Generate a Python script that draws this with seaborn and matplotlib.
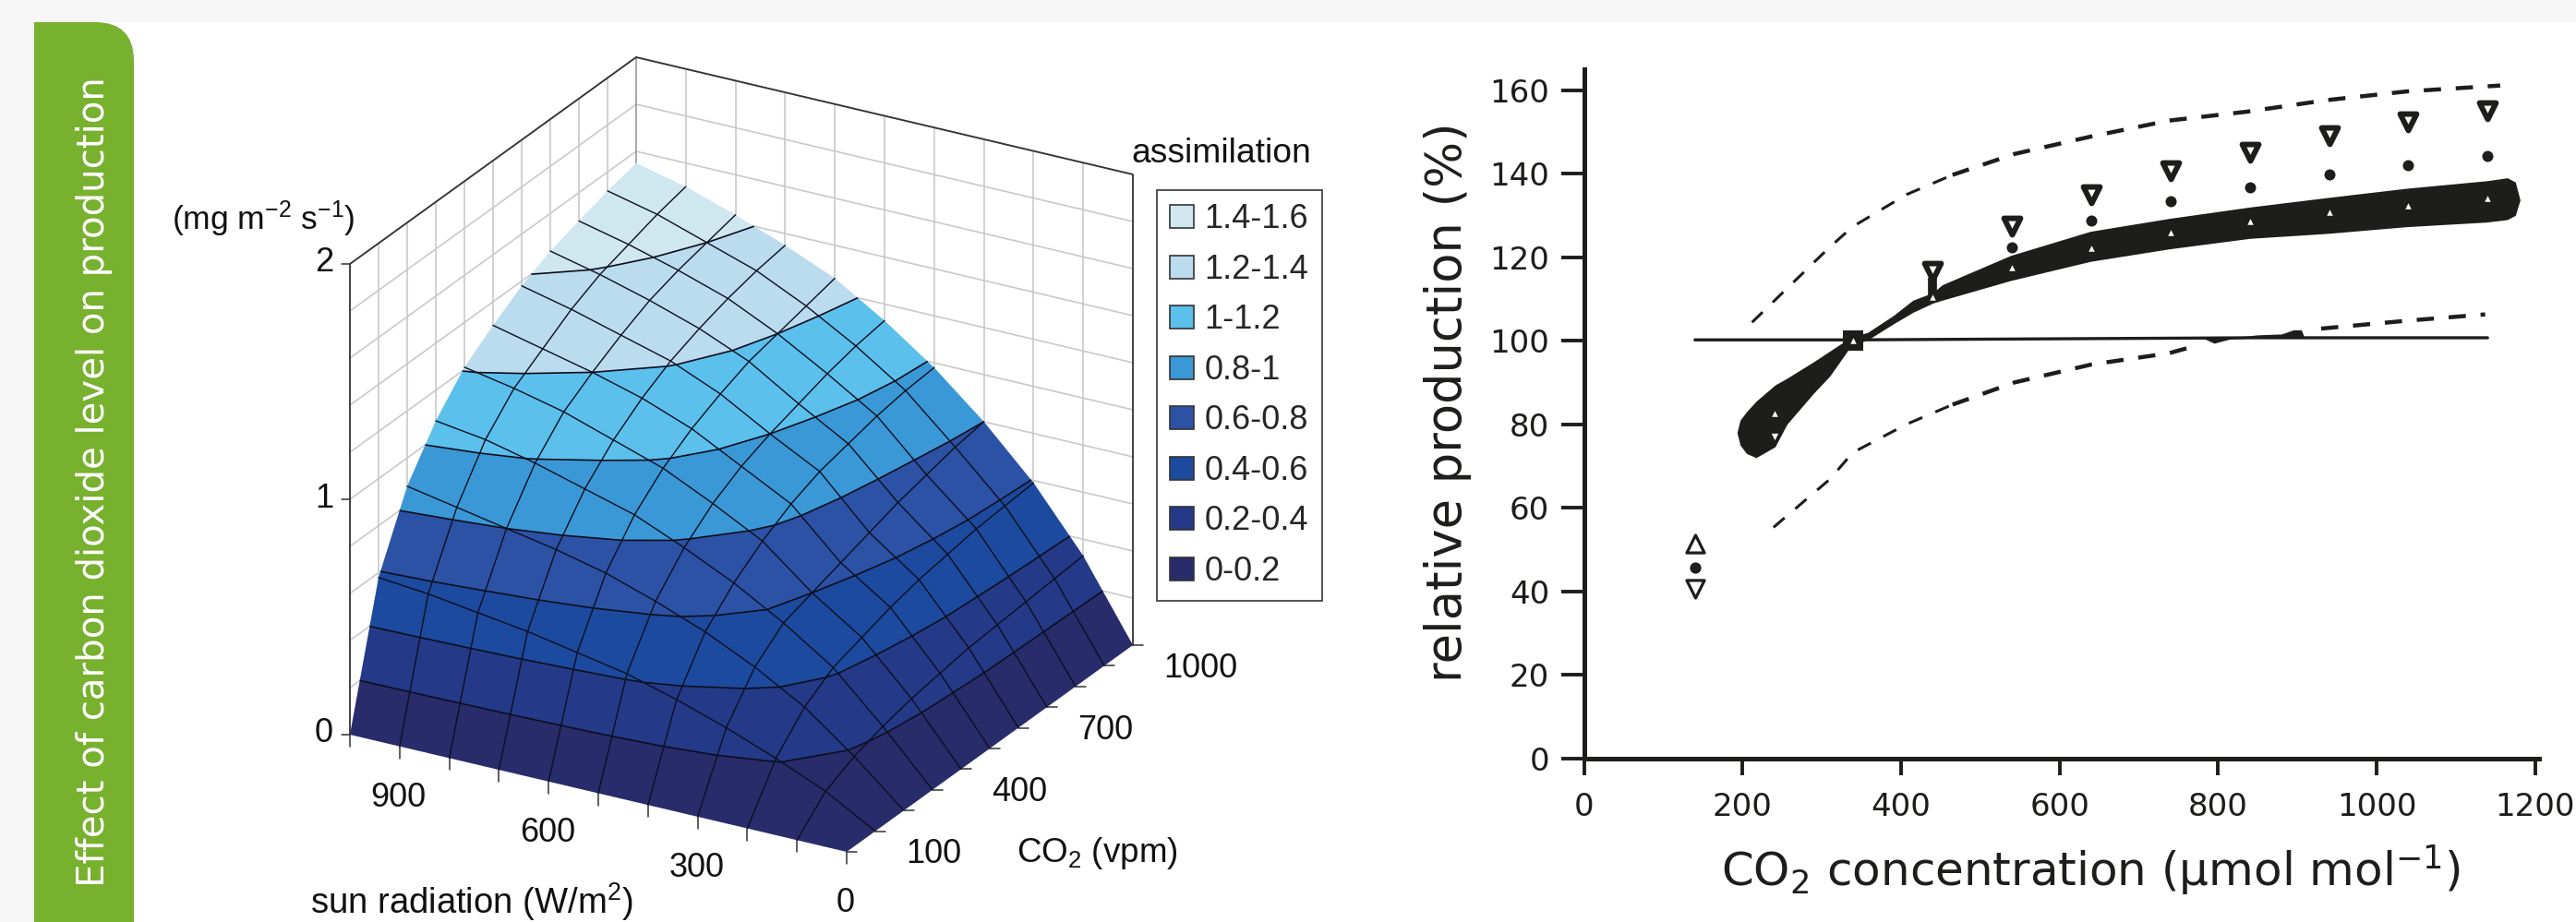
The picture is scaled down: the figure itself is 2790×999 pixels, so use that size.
import numpy as np
import pandas as pd
import matplotlib
matplotlib.use("Agg")
import matplotlib.pyplot as plt
from matplotlib.patches import Patch, Rectangle, FancyBboxPatch
import seaborn as sns

sns.set_style("white")
plt.rcParams['font.family'] = ['DejaVu Sans']
plt.rcParams['mathtext.default'] = 'regular'

# ---------- data: left surface ----------
sun_fraction = [0, .1, .2, .3, .4, .5, .6, .7, .8, .9, 1.0]
co2_fraction = [0, .1, .2, .3, .4, .5, .6, .7, .8, .9, 1.0]
assim_sun0    = [0, 0, 0, 0, 0, 0, 0, 0, 0, 0, 0]
assim_sun100  = [0, .12, .18, .22, .25, .27, .29, .30, .31, .32, .33]
assim_sun200  = [0, .21, .34, .42, .46, .50, .53, .55, .57, .58, .59]
assim_sun300  = [0, .29, .46, .56, .60, .64, .68, .72, .75, .78, .80]
assim_sun400  = [0, .36, .56, .68, .77, .84, .89, .92, .95, .97, .98]
assim_sun500  = [0, .42, .64, .78, .88, .95, 1.0, 1.04, 1.08, 1.11, 1.13]
assim_sun600  = [0, .46, .71, .87, .98, 1.06, 1.12, 1.17, 1.20, 1.23, 1.26]
assim_sun700  = [0, .50, .76, .93, 1.05, 1.14, 1.21, 1.26, 1.30, 1.33, 1.35]
assim_sun800  = [0, .53, .80, .99, 1.12, 1.20, 1.27, 1.33, 1.37, 1.40, 1.43]
assim_sun900  = [0, .56, .84, 1.04, 1.17, 1.25, 1.33, 1.39, 1.43, 1.47, 1.50]
assim_sun1000 = [0, .58, .88, 1.07, 1.21, 1.30, 1.38, 1.44, 1.48, 1.52, 1.55]
band_levels = [0, .2, .4, .6, .8, 1.0, 1.2, 1.4, 1.6]
band_labels = ['0-0.2', '0.2-0.4', '0.4-0.6', '0.6-0.8', '0.8-1', '1-1.2', '1.2-1.4', '1.4-1.6']
band_colors = ['#282c6b', '#243a88', '#1c4a9e', '#2c52a6', '#3b98d6', '#5cc0ec', '#bbdbee', '#cfe7ef']
sun_ticks = [0, 300, 600, 900]
co2_ticks = [100, 400, 700, 1000]
z_ticks = [0, 1, 2]

# ---------- data: right chart ----------
band_x     = [193, 197, 205, 217, 241, 256, 290, 310, 334, 340, 358, 390, 415, 440, 452, 538, 639, 739, 840, 939, 1038, 1139, 1165, 1175, 1181]
band_upper = [78, 81, 83, 85.5, 89.4, 91, 95, 97.5, 100.5, 101, 102, 106, 109.7, 111.5, 113.4, 120.4, 126.2, 129.3, 132, 134.3, 136.5, 138.3, 139, 138, 133.7]
band_lower = [78, 75, 73, 72, 74.6, 80, 87.5, 91.5, 98, 99, 100.2, 104, 106.8, 109, 109.7, 114.4, 119, 122, 124.5, 125.7, 127.3, 128.4, 129, 130, 133.7]
ref_x = [140, 340, 440, 640, 840, 940, 1140]
ref_y = [100.2, 100.2, 100.3, 100.5, 100.7, 100.7, 100.7]
bump_x  = [780, 795, 815, 850, 880, 895, 905, 909]
bump_hi = [100.7, 100.7, 100.7, 101.4, 101.6, 102.6, 102.6, 100.7]
bump_lo = [100.7, 99.4, 100.4, 100.7, 100.7, 100.7, 100.7, 100.7]
dash_up_thin_x = [212, 310, 339, 407, 465]
dash_up_thin_y = [104.4, 122.4, 127.3, 135, 139.7]
dash_up_bold_x = [465, 543, 640, 738, 835, 937, 1039, 1156]
dash_up_bold_y = [139.7, 144.7, 148.9, 152.7, 154.8, 157.6, 159.7, 161.1]
dash_lo_thin_x = [239, 310, 339, 407, 465]
dash_lo_thin_y = [55.3, 66.8, 73.2, 80, 84.7]
dash_lo_bold_x = [465, 543, 640, 738, 774]
dash_lo_bold_y = [84.7, 90, 94.3, 97, 98.9]
dash_lo_end_x = [930, 1039, 1137]
dash_lo_end_y = [102.9, 104.8, 106.3]
marker_x  = [240, 340, 440, 540, 640, 740, 840, 940, 1040, 1140]
high_y = [77, 99.5, 116.5, 127.4, 135, 140.7, 145.2, 149.2, 152.3, 155]
mid_x  = [540, 640, 740, 840, 940, 1040, 1140]
mid_y  = [122.3, 128.8, 133.4, 136.8, 139.9, 142.1, 144.2]
low_y  = [82.6, 100, 110.5, 117.4, 122.2, 125.8, 128.6, 130.7, 132.4, 134.1]
lone_x = [140]
lone_low, lone_mid, lone_high = [51.4], [45.7], [40.5]
neck_x, neck_lo, neck_hi = [440], [110], [115]
x_ticks = [0, 200, 400, 600, 800, 1000, 1200]
y_ticks = [0, 20, 40, 60, 80, 100, 120, 140, 160]

W, H = 2790, 999
fig = plt.figure(figsize=(W / 100, H / 100), dpi=100, facecolor='#f6f6f6')

# ---------- page furniture & surface share one pixel-scaled axes ----------
ax = fig.add_axes([0, 0, 1, 1])
ax.set_xlim(0, W); ax.set_ylim(H, 0); ax.axis('off')
ax.add_patch(Rectangle((37, 24), W, H, fc='white', ec='none', zorder=0))
ax.add_patch(FancyBboxPatch((-40, 24), 185, 1020, boxstyle='round,pad=0,rounding_size=42', fc='#77b12e', ec='none', zorder=0.5))
ax.add_patch(Rectangle((0, 0), 37, H, fc='#f6f6f6', ec='none', zorder=0.6))
ax.text(102, 522, 'Effect of carbon dioxide level on production', rotation=90, color='white',
        fontsize=29, ha='center', va='center', family='DejaVu Sans')

FONT = 'Liberation Sans'
FS = 26
TXT = '#111111'
O = np.array([917., 923.])
SUN_V = np.array([-538., -127.])
CO2_V = np.array([310., -224.])
Z_V = np.array([0., -255.])

def proj(r, t, z):
    r, t, z = np.asarray(r, float), np.asarray(t, float), np.asarray(z, float)
    return (O[0] + r * SUN_V[0] + t * CO2_V[0] + z * Z_V[0],
            O[1] + r * SUN_V[1] + t * CO2_V[1] + z * Z_V[1])

Z = np.array([assim_sun0, assim_sun100, assim_sun200, assim_sun300, assim_sun400, assim_sun500,
              assim_sun600, assim_sun700, assim_sun800, assim_sun900, assim_sun1000], float)
R, T = np.meshgrid(sun_fraction, co2_fraction, indexing='ij')
SX, SY = proj(R, T, Z)

# walls
gray = '#c9c9c9'
for z in np.arange(0.2, 2.01, 0.2):
    xs, ys = proj([1, 1, 0], [0, 1, 1], [z, z, z])
    ax.plot(xs, ys, color=gray, lw=1.2, zorder=1)
for f in sun_fraction[1:-1]:
    xs, ys = proj([f, f], [1, 1], [0, 2]); ax.plot(xs, ys, color=gray, lw=1.2, zorder=1)
for f in co2_fraction[1:-1]:
    xs, ys = proj([1, 1], [f, f], [0, 2]); ax.plot(xs, ys, color=gray, lw=1.2, zorder=1)
xs, ys = proj([1, 1, 1, 0, 0], [0, 0, 1, 1, 1], [0, 2, 2, 2, 0])
ax.plot(xs, ys, color='#333333', lw=1.3, zorder=1.2)
xs, ys = proj([1, 1], [1, 1], [0, 2]); ax.plot(xs, ys, color='#999999', lw=1.2, zorder=1)

# surface
wire = '#0c0e1e'
ax.contourf(SX, SY, Z, levels=band_levels, colors=band_colors, zorder=2, antialiased=True)
ax.contour(SX, SY, Z, levels=band_levels[1:-1], colors=wire, linewidths=1.2, zorder=3)
for i in range(1, Z.shape[0] - 1):
    ax.plot(SX[i, :], SY[i, :], color=wire, lw=1.0, zorder=3)
for j in range(1, Z.shape[1] - 1):
    ax.plot(SX[:, j], SY[:, j], color=wire, lw=1.0, zorder=3)

# axis ticks
for f in sun_fraction:
    x, y = proj(f, 0, 0); ax.plot([x, x], [y, y + 13], color='#333333', lw=1.1, zorder=1.5)
for f in co2_fraction:
    x, y = proj(0, f, 0); ax.plot([x, x + 11], [y, y], color='#333333', lw=1.1, zorder=1.5)
for z in z_ticks:
    x, y = proj(1, 0, z)
    ax.plot([x - 9, x], [y, y], color='#333333', lw=1.1, zorder=1.5)
    ax.text(x - 18, y - 1, str(z), ha='right', va='center', fontsize=FS, family=FONT, color=TXT)
for s in sun_ticks:
    x, y = proj(s / 1000, 0, 0)
    ax.text(x - 1, y + 56, str(s), ha='center', va='center', fontsize=FS, family=FONT, color=TXT)
for c in co2_ticks:
    x, y = proj(0, c / 1000, 0)
    ax.text(x + 33, y + 25, str(c), ha='left', va='center', fontsize=FS, family=FONT, color=TXT)
ax.text(1188, 925, 'CO$_2$ (vpm)', ha='center', va='center', fontsize=26.5, family=FONT, color=TXT)
ax.text(511, 977, 'sun radiation (W/m$^2$)', ha='center', va='center', fontsize=27.5, family=FONT, color=TXT)
ax.text(285, 237, '(mg m$^{-2}$ s$^{-1}$)', ha='center', va='center', fontsize=25.5, family=FONT, color=TXT)
ax.text(1225, 167, 'assimilation', ha='left', va='center', fontsize=26.8, family=FONT, color=TXT)

handles = [Patch(facecolor=c, edgecolor='#333333', linewidth=1.2, label=l)
           for c, l in zip(band_colors[::-1], band_labels[::-1])]
leg = ax.legend(handles=handles, loc='upper left', bbox_to_anchor=(1253, 206), bbox_transform=ax.transData,
                borderaxespad=0, frameon=True, fancybox=False, edgecolor='#444444', facecolor='white', framealpha=1,
                prop={'family': FONT, 'size': 26}, handlelength=0.7, handleheight=0.7,
                handletextpad=0.33, labelspacing=0.54, borderpad=0.4)
leg.get_frame().set_linewidth(1.3)
leg.set_zorder(5)

# ---------- right chart ----------
ink = '#1d1d1b'
left, right, bottom, top = 1715.6, 2750, 821.7, 75
axr = fig.add_axes([left / W, 1 - bottom / H, (right - left) / W, (bottom - top) / H], facecolor='none')
axr.fill_between(band_x, band_lower, band_upper, color=ink, lw=0, zorder=2)
axr.fill_between(bump_x, bump_lo, bump_hi, color=ink, lw=0, zorder=2)
sns.lineplot(x=ref_x, y=ref_y, ax=axr, color=ink, linewidth=2.4, estimator=None, sort=False, zorder=3)
for xv, yv in ((dash_up_thin_x, dash_up_thin_y), (dash_lo_thin_x, dash_lo_thin_y)):
    sns.lineplot(x=xv, y=yv, ax=axr, color=ink, linewidth=2.2, estimator=None, sort=False, zorder=3)
    axr.lines[-1].set_dashes((5.2, 5))
for xv, yv in ((dash_up_bold_x, dash_up_bold_y), (dash_lo_bold_x, dash_lo_bold_y), (dash_lo_end_x, dash_lo_end_y)):
    sns.lineplot(x=xv, y=yv, ax=axr, color=ink, linewidth=3.2, estimator=None, sort=False, zorder=3)
    axr.lines[-1].set_dashes((4.2, 3.6))
axr.vlines(neck_x, neck_lo, neck_hi, color=ink, lw=7, zorder=3)
sns.scatterplot(x=[340], y=[100], ax=axr, marker='s', s=260, color=ink, linewidth=0, zorder=3)
sns.scatterplot(x=marker_x[2:], y=high_y[2:], ax=axr, marker='v', s=165, facecolor='white', edgecolor=ink,
                linewidth=4.3, joinstyle='round', zorder=4)
sns.scatterplot(x=marker_x[:1], y=high_y[:1], ax=axr, marker='v', s=28, color='white', linewidth=0, zorder=5)
sns.scatterplot(x=marker_x, y=low_y, ax=axr, marker='^', s=22, color='white', linewidth=0, zorder=5)
sns.scatterplot(x=mid_x, y=mid_y, ax=axr, marker='o', s=75, color=ink, linewidth=0, zorder=4)
sns.scatterplot(x=lone_x, y=lone_mid, ax=axr, marker='o', s=78, color=ink, linewidth=0, zorder=4)
sns.scatterplot(x=lone_x, y=lone_low, ax=axr, marker='^', s=190, facecolor='white', edgecolor=ink,
                linewidth=2.3, joinstyle='round', zorder=4)
sns.scatterplot(x=lone_x, y=lone_high, ax=axr, marker='v', s=190, facecolor='white', edgecolor=ink,
                linewidth=2.3, joinstyle='round', zorder=4)

axr.set_xlim(0, 1205); axr.set_ylim(0, 165)
axr.set_xticks(x_ticks); axr.set_yticks(y_ticks)
sns.despine(ax=axr)
for sp in ('left', 'bottom'):
    axr.spines[sp].set_linewidth(3.6); axr.spines[sp].set_color(ink)
axr.tick_params(axis='x', length=13, width=2.8, color=ink, pad=13, labelsize=24.5, labelcolor=ink, bottom=True)
axr.tick_params(axis='y', length=18, width=2.8, color=ink, pad=9, labelsize=24.5, labelcolor=ink, left=True)
axr.set_xlabel('CO$_2$ concentration (µmol mol$^{-1}$)', fontsize=36, color=ink)
axr.set_ylabel('relative production (%)', fontsize=38, color=ink)
axr.xaxis.set_label_coords((2264 - left) / (right - left), (bottom - 943) / (bottom - top), transform=axr.transAxes)
axr.yaxis.set_label_coords((1568 - left) / (right - left), (bottom - 436) / (bottom - top), transform=axr.transAxes)
axr.xaxis.label.set_va('center'); axr.yaxis.label.set_va('center')

fig.savefig('out.png', dpi=100, facecolor=fig.get_facecolor())
